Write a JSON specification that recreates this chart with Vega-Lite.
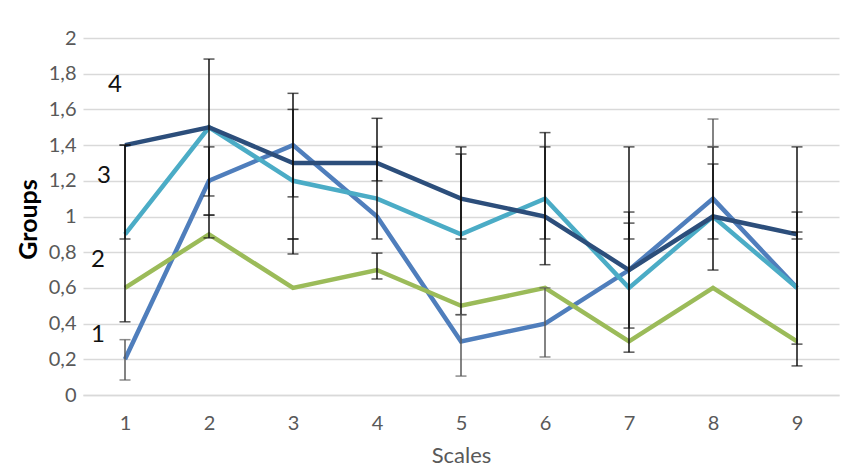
{
  "$schema": "https://vega.github.io/schema/vega-lite/v6.json",
  "width": 756,
  "height": 357,
  "autosize": {"type": "none"},
  "padding": {"left": 83, "top": 38, "right": 14, "bottom": 77},
  "background": "white",
  "config": {
    "view": {"stroke": null},
    "font": "Lato",
    "axis": {"labelFont": "Lato", "titleFont": "Lato"}
  },
  "datasets": {
    "lines": [
      {"scale": 1, "series": "1", "value": 0.2}, {"scale": 2, "series": "1", "value": 1.2}, {"scale": 3, "series": "1", "value": 1.4},
      {"scale": 4, "series": "1", "value": 1.0}, {"scale": 5, "series": "1", "value": 0.3}, {"scale": 6, "series": "1", "value": 0.4},
      {"scale": 7, "series": "1", "value": 0.7}, {"scale": 8, "series": "1", "value": 1.1}, {"scale": 9, "series": "1", "value": 0.6},
      {"scale": 1, "series": "2", "value": 0.6}, {"scale": 2, "series": "2", "value": 0.9}, {"scale": 3, "series": "2", "value": 0.6},
      {"scale": 4, "series": "2", "value": 0.7}, {"scale": 5, "series": "2", "value": 0.5}, {"scale": 6, "series": "2", "value": 0.6},
      {"scale": 7, "series": "2", "value": 0.3}, {"scale": 8, "series": "2", "value": 0.6}, {"scale": 9, "series": "2", "value": 0.3},
      {"scale": 1, "series": "3", "value": 0.9}, {"scale": 2, "series": "3", "value": 1.5}, {"scale": 3, "series": "3", "value": 1.2},
      {"scale": 4, "series": "3", "value": 1.1}, {"scale": 5, "series": "3", "value": 0.9}, {"scale": 6, "series": "3", "value": 1.1},
      {"scale": 7, "series": "3", "value": 0.6}, {"scale": 8, "series": "3", "value": 1.0}, {"scale": 9, "series": "3", "value": 0.6},
      {"scale": 1, "series": "4", "value": 1.4}, {"scale": 2, "series": "4", "value": 1.5}, {"scale": 3, "series": "4", "value": 1.3},
      {"scale": 4, "series": "4", "value": 1.3}, {"scale": 5, "series": "4", "value": 1.1}, {"scale": 6, "series": "4", "value": 1.0},
      {"scale": 7, "series": "4", "value": 0.7}, {"scale": 8, "series": "4", "value": 1.0}, {"scale": 9, "series": "4", "value": 0.9}
    ],
    "errBlack": [
      {"scale": 1, "lo": 0.41, "hi": 1.4}, {"scale": 1, "lo": 0.874, "hi": 1.4},
      {"scale": 2, "lo": 1.115, "hi": 1.882}, {"scale": 2, "lo": 1.008, "hi": 1.39}, {"scale": 2, "lo": 0.88, "hi": 1.008},
      {"scale": 3, "lo": 1.11, "hi": 1.69}, {"scale": 3, "lo": 0.874, "hi": 1.6}, {"scale": 3, "lo": 0.79, "hi": 0.874},
      {"scale": 4, "lo": 1.2, "hi": 1.55}, {"scale": 4, "lo": 0.874, "hi": 1.39}, {"scale": 4, "lo": 0.65, "hi": 0.795},
      {"scale": 5, "lo": 0.874, "hi": 1.39}, {"scale": 5, "lo": 0.45, "hi": 1.35},
      {"scale": 6, "lo": 0.874, "hi": 1.47}, {"scale": 6, "lo": 0.73, "hi": 1.39},
      {"scale": 7, "lo": 0.874, "hi": 1.39}, {"scale": 7, "lo": 0.375, "hi": 1.025}, {"scale": 7, "lo": 0.24, "hi": 0.963},
      {"scale": 8, "lo": 0.874, "hi": 1.39}, {"scale": 8, "lo": 0.7, "hi": 1.294},
      {"scale": 9, "lo": 0.874, "hi": 1.39}, {"scale": 9, "lo": 0.285, "hi": 1.025}, {"scale": 9, "lo": 0.163, "hi": 0.913}
    ],
    "errGray": [
      {"scale": 1, "lo": 0.084, "hi": 0.31},
      {"scale": 5, "lo": 0.106, "hi": 0.45},
      {"scale": 6, "lo": 0.213, "hi": 0.6},
      {"scale": 8, "lo": 1.39, "hi": 1.546}
    ],
    "labels": [
      {"scale": 1, "label": "4", "value": 1.737},
      {"scale": 1, "label": "3", "value": 1.227},
      {"scale": 1, "label": "2", "value": 0.756},
      {"scale": 1, "label": "1", "value": 0.336}
    ]
  },
  "encoding": {
    "x": {
      "field": "scale", "type": "ordinal",
      "scale": {"type": "point", "padding": 0.5},
      "axis": {
        "title": "Scales", "labelAngle": 0, "ticks": false,
        "domain": true, "domainColor": "#D9D9D9", "domainWidth": 1.5,
        "labelFontSize": 20, "labelColor": "#595959", "labelPadding": 18,
        "titleFontSize": 22, "titleFontWeight": "normal", "titleColor": "#595959", "titlePadding": 12
      }
    },
    "y": {
      "field": "value", "type": "quantitative",
      "scale": {"domain": [0, 2], "nice": false},
      "axis": {
        "title": "Groups", "tickCount": 10, "format": "~g",
        "labelExpr": "replace(datum.label, '.', ',')",
        "labelOverlap": false, "labelBound": false,
        "domain": false, "ticks": false, "gridColor": "#D9D9D9", "gridWidth": 1.5,
        "labelFontSize": 20, "labelColor": "#595959", "labelPadding": 7,
        "titleFontSize": 25, "titleFontWeight": "bold", "titleColor": "#000000",
        "titleX": -55, "titleY": 181, "titleAlign": "center", "titleBaseline": "middle"
      }
    }
  },
  "layer": [
    {
      "data": {"name": "lines"},
      "mark": {"type": "line", "strokeWidth": 4.5},
      "encoding": {
        "color": {
          "field": "series", "type": "nominal", "legend": null,
          "scale": {"domain": ["1", "2", "3", "4"], "range": ["#4F7EBC", "#9BBB59", "#4BACC6", "#2C4E7B"]}
        },
        "order": {"field": "scale"}
      }
    },
    {
      "data": {"name": "errBlack"},
      "mark": {"type": "rule", "color": "#111111", "strokeWidth": 1.5},
      "encoding": {"y": {"field": "lo", "type": "quantitative"}, "y2": {"field": "hi"}}
    },
    {
      "data": {"name": "errBlack"},
      "mark": {"type": "tick", "color": "#111111", "thickness": 1.5, "size": 11, "orient": "horizontal"},
      "encoding": {"y": {"field": "lo", "type": "quantitative"}}
    },
    {
      "data": {"name": "errBlack"},
      "mark": {"type": "tick", "color": "#111111", "thickness": 1.5, "size": 11, "orient": "horizontal"},
      "encoding": {"y": {"field": "hi", "type": "quantitative"}}
    },
    {
      "data": {"name": "errGray"},
      "mark": {"type": "rule", "color": "#5A5A5A", "strokeWidth": 1.5},
      "encoding": {"y": {"field": "lo", "type": "quantitative"}, "y2": {"field": "hi"}}
    },
    {
      "data": {"name": "errGray"},
      "mark": {"type": "tick", "color": "#5A5A5A", "thickness": 1.5, "size": 11, "orient": "horizontal"},
      "encoding": {"y": {"field": "lo", "type": "quantitative"}}
    },
    {
      "data": {"name": "errGray"},
      "mark": {"type": "tick", "color": "#5A5A5A", "thickness": 1.5, "size": 11, "orient": "horizontal"},
      "encoding": {"y": {"field": "hi", "type": "quantitative"}}
    },
    {
      "data": {"name": "labels"},
      "transform": [{"filter": "datum.label == '4'"}],
      "mark": {"type": "text", "fontSize": 24, "color": "#111111", "dx": -10},
      "encoding": {"text": {"field": "label"}}
    },
    {
      "data": {"name": "labels"},
      "transform": [{"filter": "datum.label == '3'"}],
      "mark": {"type": "text", "fontSize": 24, "color": "#111111", "dx": -21},
      "encoding": {"text": {"field": "label"}}
    },
    {
      "data": {"name": "labels"},
      "transform": [{"filter": "datum.label == '2' || datum.label == '1'"}],
      "mark": {"type": "text", "fontSize": 24, "color": "#111111", "dx": -27},
      "encoding": {"text": {"field": "label"}}
    }
  ]
}
